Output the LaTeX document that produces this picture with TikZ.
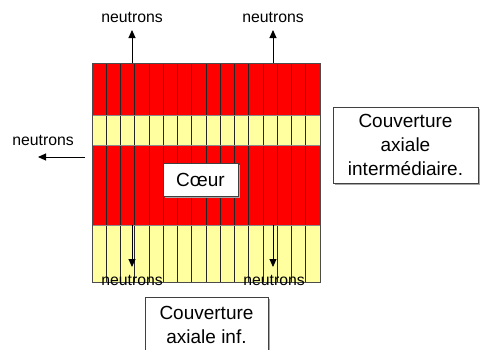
\documentclass[tikz,border=0pt]{standalone}
\usepackage{fontspec}
\setmainfont{Liberation Sans}
\usetikzlibrary{arrows.meta,shadows}
\definecolor{fuel}{RGB}{255,0,0}
\definecolor{blanket}{RGB}{255,255,160}
\begin{document}
\begin{tikzpicture}[x=1pt,y=-1pt,
  lbl/.style={inner sep=0pt,font=\fontsize{15.8}{17}\selectfont},
  flux/.style={-{Triangle[width=7pt,length=8pt]},line width=0.9pt,black},
  tag/.style={draw=black!75,line width=0.9pt,fill=white,align=center,
    font=\fontsize{19}{24}\selectfont,inner sep=2pt,
    drop shadow={shadow xshift=1.6pt,shadow yshift=-1.6pt,fill=black!35,opacity=1}},
  divider/.style={line width=0.7pt,black!85}]
\useasboundingbox (0,0) rectangle (480,349);
\clip (0,0) rectangle (480,349);

% horizontal bands of the assembly: fuel / axial blanket layers
\foreach \ya/\yb/\c in {63/115/fuel,115/145/blanket,145/225/fuel,225/282/blanket}
  \fill[\c] (92,\ya) rectangle (320,\yb);
% 16 assemblies
\foreach \i in {0,...,16}
  \draw[divider] (92+\i*14.25,63) -- (92+\i*14.25,282);
\foreach \y in {115,145,225}
  \draw[line width=0.6pt,black!45] (92,\y) -- (320,\y);
\draw[line width=0.8pt,black!70] (92,63) rectangle (320,282);

% anchor points of the flux arrows on the core
\coordinate (t1) at (132,63);
\coordinate (t2) at (273,63);
\coordinate (l1) at (85,157);
\coordinate (b1) at (132,225);
\coordinate (b2) at (273,225);

% neutron labels
\node[lbl] (nt1) at (132,17) {neutrons};
\node[lbl] (nt2) at (273,17) {neutrons};
\node[lbl] (nl) at (43,140) {neutrons};
\node[lbl] (nb1) at (132,280) {neutrons};
\node[lbl] (nb2) at (274,280) {neutrons};
\coordinate (t1e) at (132,30);
\coordinate (t2e) at (273,30);
\coordinate (l1e) at (38,157);
\coordinate (b1e) at (132,267);
\coordinate (b2e) at (273,267);

\draw[flux] (t1) -- (t1e);
\draw[flux] (t2) -- (t2e);
\draw[flux] (l1) -- (l1e);
\draw[flux] (b1) -- (b1e);
\draw[flux] (b2) -- (b2e);

% captions
\node[tag,minimum width=75pt,minimum height=33pt] (core) at (200.5,179.5) {Cœur};
\node[tag,minimum width=145pt,minimum height=76pt] (mid) at (405.5,145) {Couverture\\axiale\\intermédiaire.};
\node[tag,minimum width=123pt,minimum height=56pt] (low) at (206.5,325) {Couverture\\axiale inf.};
\end{tikzpicture}
\end{document}
